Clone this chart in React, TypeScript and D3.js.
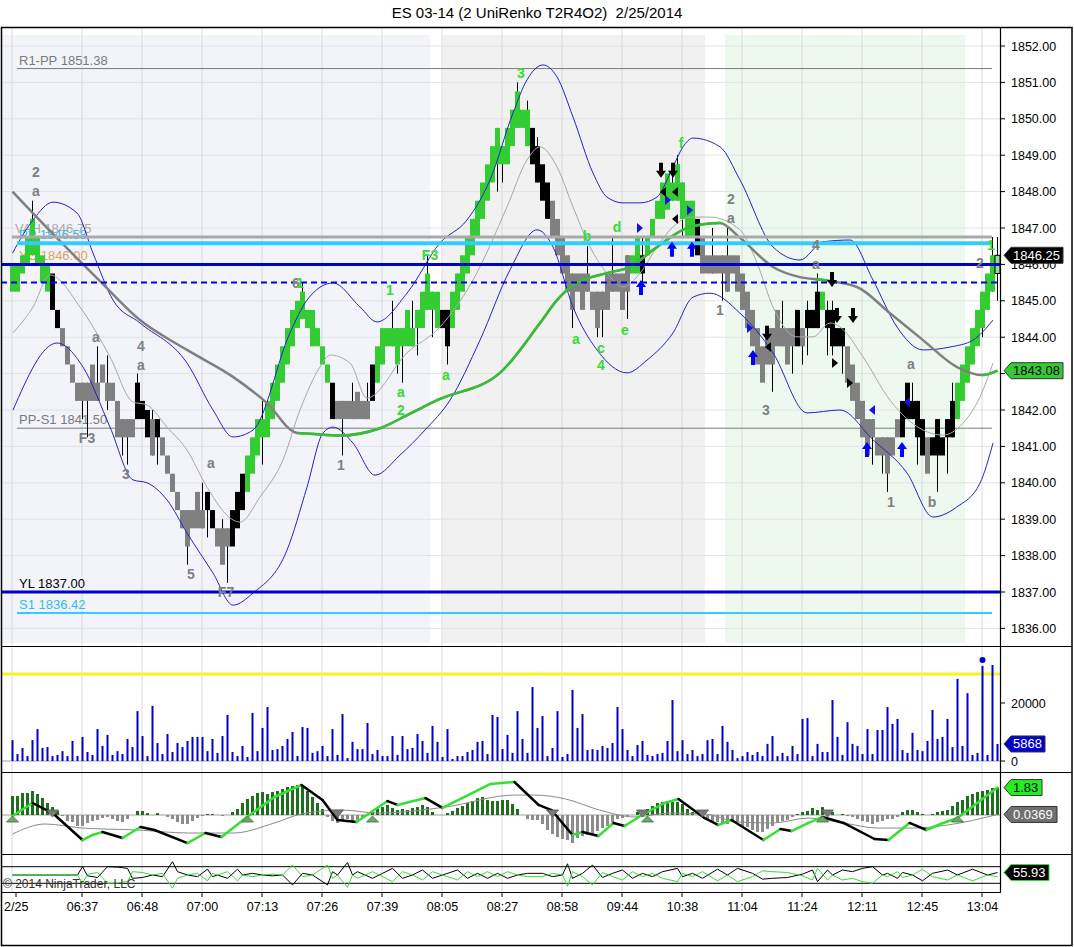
import React from "react";
import * as d3 from "d3";

const FONT = "'Liberation Sans', Arial, Helvetica, sans-serif";

// ---- renko bars (body low / body high, one per bar) ----
const bodyLo = [
  1845.25, 1845.25, 1845.75, 1846, 1846.25, 1846, 1845.5, 1845.25, 1844.75, 1844.25,
  1843.75, 1843.25, 1842.75, 1842.25, 1842.25, 1842.25, 1842.25, 1842.25, 1842.75, 1842.25,
  1842.25, 1841.25, 1841.25, 1841.25, 1841.25, 1841.75, 1841.75, 1841.25, 1840.75, 1841.25,
  1840.75, 1840.25, 1839.75, 1839.25, 1838.75, 1838.25, 1838.75, 1838.75, 1838.75, 1839.25,
  1838.75, 1838.25, 1837.75, 1838.25, 1838.25, 1838.75, 1839.25, 1839.75, 1840.25, 1840.75,
  1841.25, 1841.25, 1841.75, 1842.25, 1842.75, 1843.25, 1843.75, 1844.25, 1844.5, 1844.25,
  1843.75, 1843.75, 1843.25, 1842.75, 1841.75, 1841.75, 1841.75, 1841.75, 1841.75, 1841.75,
  1841.75, 1841.75, 1842.25, 1842.75, 1843.25, 1843.75, 1843.75, 1843.25, 1843.75, 1843.75,
  1843.75, 1844.25, 1844.25, 1844.75, 1844.75, 1844.25, 1844.25, 1843.75, 1844.25, 1844.75,
  1845.25, 1845.75, 1846.25, 1846.75, 1847.25, 1847.75, 1848.25, 1848.75, 1848.75, 1848.75,
  1849.25, 1849.75, 1849.75, 1849.25, 1848.75, 1848.25, 1847.75, 1847.25, 1846.75, 1846.25,
  1845.75, 1845.25, 1844.75, 1845.25, 1844.75, 1845.25, 1844.75, 1844.25, 1844.75, 1844.75,
  1845.25, 1845.25, 1844.75, 1845.25, 1845.75, 1845.75, 1845.75, 1846.25, 1846.75, 1847.25,
  1847.25, 1847.5, 1847.75, 1847.75, 1847.25, 1846.75, 1846.75, 1846.25, 1845.75, 1845.75,
  1845.75, 1845.75, 1845.75, 1845.25, 1845.75, 1845.25, 1844.75, 1844.25, 1843.75, 1843.25,
  1842.75, 1843.25, 1843.25, 1843.75, 1843.75, 1843.25, 1843.75, 1843.75, 1843.75, 1844.25,
  1844.25, 1844.25, 1844.75, 1844.25, 1843.75, 1843.75, 1843.75, 1842.75, 1842.25, 1841.75,
  1841.25, 1840.75, 1841.25, 1840.75, 1840.75, 1840.25, 1840.75, 1841.25, 1841.25, 1841.75,
  1841.75, 1841.25, 1840.75, 1840.25, 1840.75, 1840.75, 1840.75, 1841.25, 1841.25, 1841.75,
  1842.25, 1842.75, 1843.25, 1843.75, 1844.25, 1844.75, 1845.25, 1845.75,
];
const bodyHi = [
  1846, 1846, 1846.25, 1846.75, 1847.25, 1846.75, 1846.25, 1846, 1845.75, 1844.75,
  1844.25, 1843.75, 1843.25, 1842.75, 1842.75, 1842.75, 1843.25, 1842.75, 1843.25, 1842.75,
  1842.75, 1842.25, 1841.75, 1841.75, 1841.75, 1842.75, 1842.25, 1842, 1841.75, 1841.75,
  1841.25, 1840.75, 1840.25, 1839.75, 1839.25, 1839.25, 1839.25, 1839.75, 1839.25, 1839.75,
  1839.25, 1838.75, 1838.75, 1838.75, 1839.25, 1839.75, 1840.25, 1840.75, 1841.25, 1841.75,
  1841.75, 1842.25, 1842.75, 1843.25, 1843.75, 1844.25, 1844.75, 1845, 1845.25, 1844.75,
  1844.75, 1844.25, 1843.75, 1843.25, 1842.75, 1842.25, 1842.25, 1842.25, 1842.25, 1842.5,
  1842.25, 1842.25, 1843.25, 1843.75, 1844.25, 1844.25, 1844.25, 1844.25, 1844.25, 1844.75,
  1844.25, 1844.75, 1845.25, 1845.75, 1845.25, 1845.25, 1844.75, 1844.75, 1845.25, 1845.75,
  1846.25, 1846.75, 1847.25, 1847.75, 1848.25, 1848.75, 1849.25, 1849.75, 1849.25, 1849.75,
  1850.25, 1850.75, 1850.25, 1850.25, 1849.75, 1849.25, 1848.75, 1848.25, 1847.75, 1847.25,
  1846.75, 1846.25, 1845.75, 1845.75, 1845.75, 1845.75, 1845.25, 1845.25, 1845.25, 1845.75,
  1845.75, 1845.75, 1845.75, 1846.25, 1846.25, 1846.75, 1846.25, 1846.75, 1847.25, 1847.75,
  1848.25, 1848.5, 1848.25, 1848.75, 1848.25, 1847.75, 1847.75, 1847.25, 1846.75, 1846.25,
  1846.25, 1846.25, 1846.25, 1846.25, 1846.25, 1846.25, 1845.75, 1845.25, 1844.75, 1844.25,
  1843.75, 1844.25, 1844.25, 1844.75, 1844.25, 1844.25, 1844.25, 1844.75, 1844.25, 1844.75,
  1844.75, 1845.25, 1845.25, 1844.75, 1844.75, 1844.25, 1844.25, 1843.75, 1843.25, 1842.75,
  1842.25, 1841.75, 1841.75, 1841.25, 1841.25, 1841.25, 1841.25, 1841.75, 1842.25, 1842.75,
  1842.25, 1842.25, 1841.75, 1841.25, 1841.25, 1841.75, 1841.25, 1841.75, 1842.25, 1842.75,
  1843.25, 1843.75, 1844.25, 1844.75, 1845.25, 1845.75, 1846.25, 1846.25,
];
// G = green, S = gray, K = black, H = current (hollow) bar
const barColors =
  "GGGGGGGG" + "KK" + "SSSSSSSSSSSSSSS" + "KKK" + "S" + "K" + "SSSSSSSSS" + "KK" + "SSS" + "KKK" +
  "GGGGGGGGGGGGGGGGG" + "K" + "SSSSSSS" + "K" + "GGGGGGGGGGGGG" + "KK" + "GGGGGGGGGGGGGGGG" + "KKKK" +
  "SSSSSSSSSSSSSSSS" + "GG" + "K" + "GGGGGGGGGG" + "K" + "SSSSSSSSSSSSSSSSSSS" + "K" + "S" + "KKK" + "G" +
  "KKKK" + "SSSSSSSSSSS" + "KKKKK" + "S" + "KKKKK" + "GGGGGGGG" + "H";

// [bar, low, high]
const wicks: [number, number, number][] = [
  [4, 1846.25, 1847.75], [14, 1841.75, 1842.75], [15, 1841.25, 1842.75], [17, 1842.25, 1843.75],
  [19, 1842, 1843.5], [22, 1840.75, 1841.75], [23, 1840.5, 1841.75], [25, 1841.75, 1843],
  [28, 1840.75, 1842], [29, 1840.5, 1841.75], [35, 1837.75, 1839.25], [38, 1838.75, 1840],
  [39, 1838.5, 1839.75], [42, 1837.75, 1839], [43, 1837.25, 1838.75], [50, 1840.5, 1842.25],
  [58, 1844.5, 1845.5], [66, 1840.75, 1842.25], [68, 1841.75, 1842.75], [71, 1841.75, 1842.75],
  [76, 1843.75, 1845], [77, 1843, 1844.25], [78, 1842.75, 1844.25], [80, 1843.75, 1845],
  [81, 1843.5, 1844.75], [83, 1844.75, 1846.25], [84, 1844, 1845.25], [87, 1843.25, 1844.75],
  [97, 1848, 1849.75], [98, 1848.25, 1849.25], [101, 1849.75, 1851], [103, 1849.25, 1850.5],
  [105, 1848.25, 1849.5], [112, 1844.25, 1845.75], [115, 1845.25, 1846.5], [117, 1844, 1845.25],
  [118, 1844, 1845.25], [120, 1845.25, 1846.75], [123, 1844.5, 1846.25], [126, 1845.25, 1846.75],
  [132, 1847.75, 1848.75], [133, 1847.75, 1849], [134, 1846.75, 1848.25], [140, 1845.75, 1847],
  [142, 1845, 1846.25], [143, 1845.25, 1847], [152, 1842.5, 1844.25], [154, 1843.75, 1845],
  [156, 1843, 1844.25], [158, 1843.25, 1844.25], [159, 1843.5, 1845], [161, 1844.25, 1845.75],
  [163, 1843.5, 1845], [164, 1843.5, 1845], [166, 1843, 1844.25], [172, 1840.5, 1841.75],
  [174, 1840.25, 1841.25], [175, 1839.75, 1841.25], [180, 1841.75, 1842.75], [181, 1840.5, 1842.25],
  [185, 1839.75, 1841.75], [187, 1840.25, 1841.75], [188, 1841.25, 1842.75], [194, 1844, 1845.25],
  [196, 1845.25, 1846.75], [197, 1845, 1846.75],
];

const volume = [
  7200, 2400, 4500, 1700, 7200, 11000, 4500, 4800, 1700, 2100,
  3400, 1700, 6900, 1700, 8300, 3100, 2100, 11000, 5200, 9000,
  2100, 3400, 2400, 7600, 4800, 17200, 8600, 1700, 19000, 6200,
  2400, 9300, 3100, 6200, 4800, 6900, 8300, 8300, 8300, 3400,
  7600, 2800, 8600, 15900, 3100, 1700, 5200, 1400, 16600, 3400,
  11400, 18600, 3800, 4100, 5200, 7600, 10000, 1700, 11700, 11400,
  2800, 3400, 5200, 1700, 11000, 2100, 16200, 1000, 6600, 4100,
  4100, 13100, 2400, 3800, 1700, 1700, 8600, 2100, 8600, 4100,
  4500, 9300, 6900, 2800, 12100, 6600, 1400, 11000, 700, 1700,
  1700, 3100, 3800, 6600, 6900, 2400, 15900, 15200, 4100, 9000,
  2800, 17200, 7600, 2800, 25500, 11400, 15500, 1700, 4500, 17200,
  1400, 2400, 24500, 11400, 16200, 3800, 4100, 3800, 5200, 4500,
  6200, 18600, 11000, 3800, 1700, 5500, 6900, 2100, 1700, 2400,
  2800, 6900, 21000, 3400, 7200, 2400, 3800, 1700, 2400, 7200,
  7600, 2400, 12100, 6600, 3800, 1000, 1700, 3100, 2100, 3100,
  1700, 5900, 8600, 1700, 2800, 1700, 5200, 2400, 14500, 14800,
  1700, 5900, 3100, 3100, 21000, 8300, 2100, 13400, 5900, 5200,
  2400, 11000, 2400, 10700, 10700, 18600, 12800, 14500, 3800, 2800,
  9700, 3800, 3400, 6900, 17600, 7600, 8300, 14500, 4800, 28300,
  5200, 23400, 2100, 2800, 32800, 2100, 33100, 5868,
];
const volumeLevel = 30000;
const volumeSignalBar = 194;

const macdHist = [
  1.27, 1.27, 1.47, 1.47, 1.6, 1.4, 1.13, 0.8, 0.53, 0.27,
  -0.07, -0.4, -0.47, -0.73, -0.73, -0.53, -0.4, -0.33, -0.2, -0.13,
  -0.27, -0.4, -0.47, -0.27, 0, 0.27, 0.27, 0.13, 0, 0.13,
  0, -0.13, -0.27, -0.47, -0.6, -0.6, -0.4, -0.2, -0.07, 0.07,
  0.07, 0, -0.07, 0, 0.2, 0.4, 0.8, 1.07, 1.27, 1.47,
  1.53, 1.4, 1.53, 1.6, 1.73, 1.87, 1.93, 2.0, 1.93, 1.6,
  1.2, 0.8, 0.4, -0.13, -0.4, -0.53, -0.4, -0.27, -0.47, -0.33,
  -0.13, 0, 0.2, 0.4, 0.53, 0.67, 0.47, 0.33, 0.4, 0.33,
  0.47, 0.53, 0.67, 0.53, 0.2, 0, 0, 0.13, 0.27, 0.47,
  0.6, 0.8, 0.93, 1.13, 1.2, 1.0, 0.93, 0.93, 1.0, 1.0,
  0.73, 0.4, 0, -0.27, -0.33, -0.33, -0.6, -1.0, -1.27, -1.47,
  -1.6, -1.67, -1.87, -1.53, -1.4, -1.33, -1.27, -1.07, -0.87, -0.73,
  -0.47, -0.27, -0.2, -0.07, 0, 0.2, 0.27, 0.4, 0.6, 0.8,
  0.87, 0.93, 0.87, 0.87, 0.73, 0.4, 0.2, 0, -0.07, -0.27,
  -0.4, -0.47, -0.53, -0.6, -0.47, -0.47, -0.73, -0.8, -1.0, -1.13,
  -1.13, -0.93, -0.73, -0.47, -0.4, -0.33, -0.13, 0.07, 0.2, 0.27,
  0.47, 0.33, 0.53, 0.27, 0.2, 0, 0.07, -0.07, -0.13, -0.27,
  -0.4, -0.47, -0.6, -0.47, -0.4, -0.27, -0.27, -0.13, 0.2, 0.33,
  0.33, 0.2, 0.07, 0, 0.07, 0.2, 0.27, 0.33, 0.6, 0.87,
  1.0, 1.27, 1.4, 1.53, 1.6, 1.67, 1.8, 1.83,
];
// [bar, value]
const macdLine: [number, number][] = [
  [0, -0.07], [4, 0.8], [8, 0.13], [14, -1.67], [16, -1.33], [18, -1.13], [22, -1.53], [25.6, -0.8],
  [28.4, -1.0], [35, -1.87], [38.6, -1.2], [41.8, -1.47], [46.9, -0.13], [52.4, 1.2], [57.8, 2.0],
  [62, 1.0], [65, -0.33], [68.8, -0.47], [75, 0.93], [77, 0.67], [82.6, 1.13], [86, 0.47],
  [95.6, 2.07], [100.4, 2.2], [105.2, 0.67], [107.8, 0.33], [112, -1.33], [114, -1.13],
  [117.2, -1.4], [120.2, -0.53], [122.4, -0.73], [126.6, 0.13], [130.4, 0.8], [133.2, 1.07],
  [138.4, -0.2], [141.2, -0.67], [143.8, -0.33], [150.2, -1.67], [153.6, -0.93], [155.8, -1.07],
  [159.2, -0.53], [162, -0.13], [166.2, -0.53], [172.4, -1.6], [175.2, -1.67], [179.4, -0.53],
  [182.8, -1.0], [185.6, -0.6], [189, -0.2], [197, 1.83],
];
const macdSignal: [number, number][] = [
  [0, -1.27], [6.5, -0.6], [14, -0.87], [25, -1.0], [35.2, -1.2], [44.2, -1.2], [52.4, -0.53],
  [57.8, 0.07], [66, 0.33], [73, 0.13], [86.6, 0.53], [100.4, 1.33], [104.4, 1.33], [110.6, 1.07],
  [117.4, 0.33], [124.4, -0.13], [131.4, 0.13], [138.4, 0.07], [145.2, -0.47], [152.2, -0.53],
  [159.2, -0.2], [166.2, -0.53], [173, -0.87], [180, -0.87], [187, -0.67], [197, 0.0369],
];
const macdUpMarks = [0, 47, 72, 127, 162, 189];
const macdDownMarks = [8, 65, 108, 126, 138, 163];

// price-panel indicators, [bar, price]
const upperBand: [number, number][] = [
  [0, 1846.31], [4.1, 1847.22], [8.1, 1847.71], [12.9, 1847.41], [16.1, 1846.31], [20.1, 1845.02],
  [25.5, 1844.39], [34.9, 1843.29], [40.1, 1842.0], [44.1, 1841.26], [48.1, 1841.45], [55.5, 1844.12],
  [58.9, 1845.02], [64.1, 1845.49], [69.5, 1844.83], [72.9, 1844.42], [78.9, 1845.21], [85.5, 1846.59],
  [90.9, 1847.22], [95.5, 1848.32], [100.1, 1850.16], [102.9, 1851.07], [106.1, 1851.48], [108.9, 1851.15],
  [112.1, 1850.05], [116.1, 1848.51], [118.9, 1847.85], [122.1, 1847.69], [125.5, 1847.69], [128.9, 1847.85],
  [132.1, 1848.68], [134.1, 1849.23], [136.1, 1849.47], [141.5, 1849.23], [145.5, 1848.32], [152.1, 1846.48],
  [157.5, 1846.12], [162.1, 1846.62], [167.5, 1846.67], [172.1, 1845.57], [176.9, 1844.28], [182.1, 1843.65],
  [187.5, 1843.73], [192.1, 1843.92], [196.1, 1844.47],
];
const lowerBand: [number, number][] = [
  [0.1, 1842.0], [8.9, 1843.84], [14.1, 1843.18], [19.5, 1841.53], [24.1, 1840.08], [26.9, 1840.0],
  [30.9, 1839.53], [34.9, 1838.62], [40.1, 1837.52], [44.1, 1836.64], [48.1, 1836.97], [54.9, 1838.15],
  [58.9, 1839.88], [62.1, 1841.37], [64.1, 1841.53], [68.1, 1841.09], [72.5, 1840.21], [77.5, 1840.76],
  [82.5, 1841.45], [87.5, 1842.27], [93.5, 1843.92], [99.5, 1845.85], [104.9, 1846.95], [108.1, 1846.48],
  [112.1, 1844.83], [116.9, 1843.65], [122.9, 1843.02], [126.9, 1843.37], [132.1, 1844.12], [136.1, 1845.1],
  [139.5, 1845.21], [145.5, 1844.66], [152.1, 1843.57], [158.9, 1841.92], [165.5, 1842.0], [172.1, 1841.18],
  [178.9, 1840.27], [184.1, 1839.06], [188.9, 1839.34], [193.5, 1839.99], [196.1, 1841.09],
];
const fastMA: [number, number][] = [
  [0.1, 1844.12], [4.1, 1844.83], [7.5, 1845.71], [13.5, 1844.83], [19.5, 1843.46], [24.1, 1842.22],
  [26.9, 1842.14], [30.9, 1841.53], [34.9, 1840.9], [38.9, 1839.88], [44.1, 1838.98], [45.5, 1838.92],
  [49.5, 1839.61], [54.1, 1840.63], [57.5, 1842.0], [61.5, 1843.18], [63.5, 1843.51], [67.5, 1843.29],
  [70.9, 1842.33], [78.9, 1843.57], [85.5, 1844.28], [92.1, 1845.57], [98.9, 1847.58], [102.9, 1848.87],
  [105.5, 1849.23], [108.9, 1848.68], [112.1, 1847.58], [115.5, 1846.48], [118.9, 1845.76], [122.1, 1845.38],
  [125.5, 1845.76], [128.9, 1846.48], [132.1, 1847.03], [135.5, 1847.3], [139.5, 1847.3], [145.5, 1846.95],
  [148.9, 1846.04], [152.1, 1844.83], [156.9, 1844.01], [160.1, 1844.01], [163.5, 1844.39], [165.5, 1844.28],
  [170.1, 1843.46], [175.5, 1842.27], [182.1, 1841.45], [186.1, 1841.31], [190.1, 1841.64], [193.5, 1842.36],
  [196.1, 1843.29],
];
const slowMA: [number, number][] = [
  [0, 1848.0], [7.5, 1846.92], [17.5, 1845.54], [25.5, 1844.47], [34.9, 1843.65], [44.1, 1842.91],
  [50.9, 1842.19], [56.9, 1841.37], [59.5, 1841.35], [65.5, 1841.3], [73.5, 1841.5], [79.5, 1841.9],
  [84.9, 1842.27], [97.5, 1843.02], [105.5, 1844.39], [108.9, 1845.02], [112.1, 1845.43], [118.9, 1845.76],
  [123.5, 1845.93], [128.9, 1846.48], [135.5, 1847.03], [141.5, 1847.14], [145.5, 1846.73], [152.1, 1845.93],
  [157.5, 1845.65], [162.1, 1845.57], [168.9, 1845.38], [175.5, 1844.66], [182.1, 1843.92], [188.9, 1843.18],
  [194.1, 1842.96], [197, 1843.08],
];
const slowMAUp: [number, number][] = [[57, 142], [160.5, 164], [194, 198]];

// oscillator panel, [bar, value]
const oscBlack: [number, number][] = [
  [0, 50], [13, 50], [14, 70], [15, 48], [17, 44], [19, 70], [21, 69], [23, 66], [24, 42], [26, 44],
  [28, 50], [30, 46], [32, 82], [33, 58], [35, 50], [37, 46], [39, 64], [40, 46], [41, 50], [43, 42],
  [45, 64], [46, 50], [48, 54], [50, 50], [52, 48], [54, 50], [56, 26], [58, 54], [60, 50], [63, 26],
  [64, 58], [65, 50], [67, 80], [68, 50], [69, 58], [72, 42], [74, 54], [76, 66], [78, 42], [80, 50],
  [82, 62], [84, 42], [86, 50], [89, 62], [91, 42], [93, 54], [95, 42], [97, 54], [99, 42], [101, 50],
  [103, 54], [106, 54], [108, 46], [110, 50], [111, 77], [112, 42], [114, 54], [116, 74], [118, 44],
  [120, 54], [122, 62], [124, 42], [126, 54], [128, 46], [130, 58], [133, 66], [134, 46], [136, 54],
  [138, 42], [141, 64], [143, 50], [145, 66], [148, 54], [150, 40], [152, 42], [155, 44], [158, 52],
  [160, 62], [161, 34], [163, 62], [164, 50], [166, 62], [168, 58], [170, 66], [172, 70], [174, 50],
  [175, 54], [177, 42], [178, 56], [180, 50], [182, 36], [184, 54], [187, 62], [189, 50], [192, 64],
  [195, 50], [197, 55.93],
];
const oscGreen: [number, number][] = [
  [0, 50], [13, 50], [14, 30], [15, 52], [17, 56], [19, 30], [21, 31], [23, 34], [24, 58], [26, 56],
  [28, 50], [30, 54], [32, 18], [33, 42], [35, 50], [37, 54], [39, 36], [40, 54], [41, 50], [43, 58],
  [45, 36], [46, 50], [48, 46], [50, 50], [52, 52], [54, 50], [56, 74], [58, 46], [60, 50], [63, 74],
  [64, 42], [65, 50], [67, 20], [68, 50], [69, 42], [72, 58], [74, 46], [76, 34], [78, 58], [80, 50],
  [82, 38], [84, 58], [86, 50], [89, 38], [91, 58], [93, 46], [95, 58], [97, 46], [99, 58], [101, 50],
  [103, 46], [106, 46], [108, 54], [110, 50], [111, 23], [112, 58], [114, 46], [116, 26], [118, 56],
  [120, 46], [122, 38], [124, 58], [126, 46], [128, 54], [130, 42], [133, 34], [134, 54], [136, 46],
  [138, 58], [141, 36], [143, 50], [145, 34], [148, 46], [150, 60], [152, 58], [155, 56], [158, 48],
  [160, 38], [161, 66], [163, 38], [164, 50], [166, 38], [168, 42], [170, 34], [172, 30], [174, 50],
  [175, 46], [177, 58], [178, 44], [180, 50], [182, 64], [184, 46], [187, 38], [189, 50], [192, 36],
  [195, 50], [197, 46],
];

// swing labels, [bar, price, text]
const grayMarks: [number, number, string][] = [
  [4.7, 1848.54, "2"], [4.7, 1848.02, "a"], [16.7, 1844.0, "a"], [25.7, 1843.76, "4"], [25.7, 1843.24, "a"],
  [14.9, 1841.23, "F3"], [22.7, 1840.24, "3"], [39.7, 1840.54, "a"], [35.7, 1837.49, "5"], [42.7, 1837.0, "F7"],
  [56.7, 1845.49, "6"], [65.7, 1840.49, "1"], [143.7, 1847.8, "2"], [143.7, 1847.27, "a"], [160.7, 1846.53, "4"],
  [160.7, 1846.01, "a"], [141.5, 1844.75, "1"], [150.7, 1842.0, "3"], [179.7, 1843.26, "a"], [175.7, 1839.47, "1"],
  [183.9, 1839.47, "b"], [193.5, 1846.04, "2"],
];
const greenMarks: [number, number, string][] = [
  [57.5, 1845.49, "1"], [75.5, 1845.3, "1"], [77.7, 1842.49, "a"], [77.7, 1842.0, "2"], [83.5, 1846.26, "F3"],
  [86.7, 1842.96, "a"], [101.7, 1851.26, "3"], [114.9, 1846.78, "b"], [120.9, 1847.03, "d"], [112.7, 1843.95, "a"],
  [117.7, 1843.7, "c"], [117.7, 1843.24, "4"], [122.5, 1844.2, "e"], [133.7, 1849.34, "f"], [195.7, 1846.53, "1"],
];
const upArrows: [number, number][] = [
  [125.7, 1845.35], [131.9, 1846.4], [135.9, 1846.4], [148.1, 1843.43], [170.9, 1840.9], [177.9, 1840.9],
];
const downArrows: [number, number][] = [
  [129.7, 1848.6], [132.1, 1848.6], [150.9, 1844.12], [163.9, 1845.6], [164.9, 1844.61], [168.1, 1844.61],
];
// [bar, price, direction, colour key]
const pointers: [number, number, string, string][] = [
  [125.5, 1847.0, "r", "b"], [131.1, 1847.77, "r", "b"], [135.5, 1847.49, "r", "b"], [130.1, 1847.99, "l", "k"],
  [132.5, 1847.99, "l", "k"], [132.5, 1847.25, "l", "k"], [151.1, 1843.73, "l", "k"], [147.5, 1844.25, "r", "b"],
  [164.5, 1843.29, "r", "k"], [167.5, 1842.74, "r", "k"], [171.9, 1842.0, "l", "b"], [178.9, 1842.22, "l", "b"],
];

// horizontal levels
const levelNames = ["R1-PP", "VAH", "PP", "YC", "MID", "PP-S1", "YL", "S1"];
const levelValues = [1851.38, 1846.75, 1846.58, 1846.0, 1845.5, 1841.5, 1837.0, 1836.42];

const timeLabels = ["2/25", "06:37", "06:48", "07:00", "07:13", "07:26", "07:39", "08:05", "08:27",
  "08:58", "09:44", "10:38", "11:04", "11:24", "12:11", "12:45", "13:04"];
const timeTickBars = [0, 14, 26, 38, 50, 62, 74, 86, 98, 110, 122, 134, 146, 158, 170, 182, 194];

const sessions: [number, number, string][] = [[-2.4, 83.5, "#f3f4fa"], [86.1, 138.5, "#f1f1f1"], [142.5, 190.5, "#edf9ee"]];

const title = "ES 03-14 (2 UniRenko T2R4O2)  2/25/2014";
const slowMALast = 1843.08;

const levelStyle: Record<string, { stroke: string; w: number; x0: number; x1: number; label?: string; dash?: string }> = {
  "R1-PP": { stroke: "#7a7a7a", w: 1, x0: 17, x1: 992, label: "#7a7a7a" },
  VAH: { stroke: "#a9a9a9", w: 3, x0: 12, x1: 992, label: "#a9a9a9" },
  PP: { stroke: "#33ccff", w: 4, x0: 17, x1: 992, label: "#3cb8ec" },
  YC: { stroke: "#0000cc", w: 3, x0: 1, x1: 1000, label: "#d9a565" },
  MID: { stroke: "#0000ee", w: 2, x0: 1, x1: 1000, dash: "6,4" },
  "PP-S1": { stroke: "#7a7a7a", w: 1, x0: 17, x1: 992, label: "#7a7a7a" },
  YL: { stroke: "#0000cc", w: 3, x0: 1, x1: 1000, label: "#000000" },
  S1: { stroke: "#33ccff", w: 2, x0: 17, x1: 992, label: "#33bbee" },
};
const barFill: Record<string, string> = { G: "#33cc33", S: "#808080", K: "#000000", H: "#8fdf8f" };

function Marker({ y, text, fill, color, w, stroke }: { y: number; text: string; fill: string; color: string; w: number; stroke?: string }) {
  const x0 = 1004, xb = 1011, h = 8;
  return (
    <g>
      <polygon
        points={`${x0},${y} ${xb},${y - h} ${xb + w},${y - h} ${xb + w},${y + h} ${xb},${y + h}`}
        fill={fill}
        stroke={stroke || "#333"}
        strokeWidth={1}
      />
      <text x={xb + 2} y={y + 4.5} fontSize={13} fill={color} fontFamily={FONT}>{text}</text>
    </g>
  );
}

export default function App() {
  const x = d3.scaleLinear().domain([0, 197]).range([12.5, 997.5]);
  const yP = d3.scaleLinear().domain([1852, 1836]).range([46, 628.4]);
  const yV = d3.scaleLinear().domain([0, 20000]).range([761, 703]);
  const yM = d3.scaleLinear().domain([0, 1]).range([815, 800]);
  const yO = d3.scaleLinear().domain([30, 70]).range([883.3, 866.7]);

  const priceLine = d3.line<[number, number]>().x((d) => x(d[0])).y((d) => yP(d[1])).curve(d3.curveMonotoneX);
  const sigLine = d3.line<[number, number]>().x((d) => x(d[0])).y((d) => yM(d[1])).curve(d3.curveMonotoneX);
  const oscLine = d3.line<[number, number]>().x((d) => x(d[0])).y((d) => yO(d[1]));

  const priceTicks = d3.range(1836, 1853);
  const lastPrice = bodyHi[bodyHi.length - 1];

  return (
    <svg width={1074} height={947} style={{ position: "absolute", left: 0, top: 0 }} fontFamily={FONT}>
      <defs>
        <clipPath id="pricePanel"><rect x={1} y={28} width={999} height={617} /></clipPath>
        <clipPath id="maUp">
          {slowMAUp.map((r, k) => (
            <rect key={k} x={x(r[0])} y={28} width={x(r[1]) - x(r[0])} height={617} />
          ))}
        </clipPath>
      </defs>
      <rect x={0} y={0} width={1074} height={947} fill="#fff" />
      <text x={537} y={18} textAnchor="middle" fontSize={15} fill="#000" style={{ whiteSpace: "pre" }}>{title}</text>

      {/* session shading */}
      {sessions.map((s, k) => (
        <rect key={k} x={Math.max(2, x(s[0]))} y={35} width={x(s[1]) - Math.max(2, x(s[0]))} height={608} fill={s[2]} />
      ))}

      {/* grid */}
      {priceTicks.map((p) => (
        <line key={p} x1={1} x2={1000} y1={yP(p)} y2={yP(p)} stroke="#e2e2e6" strokeWidth={1} />
      ))}
      {timeTickBars.map((b) => (
        <line key={b} x1={x(b) - 0.5} x2={x(b) - 0.5} y1={28} y2={892} stroke="#d9d9dc" strokeWidth={1} />
      ))}

      <g clipPath="url(#pricePanel)">
        {/* thin levels under bars */}
        {levelNames.map((n, k) => {
          const st = levelStyle[n];
          if (st.w > 1) return null;
          return <line key={n} x1={st.x0} x2={st.x1} y1={yP(levelValues[k])} y2={yP(levelValues[k])} stroke={st.stroke} strokeWidth={st.w} />;
        })}
        {levelNames.map((n, k) => {
          const st = levelStyle[n];
          if (!st.label) return null;
          return (
            <text key={n} x={n === "VAH" ? 15 : 19} y={yP(levelValues[k]) - 4} fontSize={13} fill={st.label}>
              {`${n} ${levelValues[k].toFixed(2)}`}
            </text>
          );
        })}

        {/* wicks and renko bodies */}
        {wicks.map((w) => (
          <line key={w[0]} x1={x(w[0])} x2={x(w[0])} y1={yP(w[1])} y2={yP(w[2])} stroke="#000" strokeWidth={1} />
        ))}
        {bodyLo.map((lo, i) => (
          <rect
            key={i}
            x={x(i) - 2.5}
            width={5}
            y={yP(bodyHi[i])}
            height={yP(lo) - yP(bodyHi[i])}
            fill={barFill[barColors[i]]}
            stroke={barColors[i] === "H" ? "#000" : "none"}
            strokeWidth={1}
          />
        ))}

        {/* indicators */}
        <path d={priceLine(upperBand) || ""} fill="none" stroke="#2323c8" strokeWidth={1} />
        <path d={priceLine(lowerBand) || ""} fill="none" stroke="#2323c8" strokeWidth={1} />
        <path d={priceLine(fastMA) || ""} fill="none" stroke="#a8a8a8" strokeWidth={1} />
        <path d={priceLine(slowMA) || ""} fill="none" stroke="#808080" strokeWidth={2.5} />
        <path d={priceLine(slowMA) || ""} fill="none" stroke="#33c033" strokeWidth={2.5} clipPath="url(#maUp)" />

        {/* thick levels over bars */}
        {levelNames.map((n, k) => {
          const st = levelStyle[n];
          if (st.w <= 1) return null;
          return (
            <line key={n} x1={st.x0} x2={st.x1} y1={yP(levelValues[k])} y2={yP(levelValues[k])}
              stroke={st.stroke} strokeWidth={st.w} strokeDasharray={st.dash} />
          );
        })}

        {/* swing labels */}
        {grayMarks.map((m, k) => (
          <text key={"g" + k} x={x(m[0])} y={yP(m[1]) + 5} textAnchor="middle" fontSize={14} fontWeight="bold" fill="#808080">{m[2]}</text>
        ))}
        {greenMarks.map((m, k) => (
          <text key={"n" + k} x={x(m[0])} y={yP(m[1]) + 5} textAnchor="middle" fontSize={14} fontWeight="bold" fill="#33dd33">{m[2]}</text>
        ))}
        {upArrows.map((a, k) => {
          const cx = x(a[0]), cy = yP(a[1]);
          return <path key={"u" + k} d={`M${cx - 5},${cy - 1}L${cx},${cy - 8}L${cx + 5},${cy - 1}L${cx + 2},${cy - 1}L${cx + 2},${cy + 7}L${cx - 2},${cy + 7}L${cx - 2},${cy - 1}Z`} fill="#0000ff" />;
        })}
        {downArrows.map((a, k) => {
          const cx = x(a[0]), cy = yP(a[1]);
          return <path key={"d" + k} d={`M${cx - 5},${cy + 1}L${cx},${cy + 8}L${cx + 5},${cy + 1}L${cx + 2},${cy + 1}L${cx + 2},${cy - 7}L${cx - 2},${cy - 7}L${cx - 2},${cy + 1}Z`} fill="#000" />;
        })}
        {pointers.map((p, k) => {
          const cx = x(p[0]), cy = yP(p[1]);
          const s = p[2] === "r" ? 1 : -1;
          return <path key={"p" + k} d={`M${cx - 3 * s},${cy - 5}L${cx + 3 * s},${cy}L${cx - 3 * s},${cy + 5}Z`} fill={p[3] === "b" ? "#1010ee" : "#000"} />;
        })}
      </g>

      {/* volume panel */}
      <line x1={1} x2={1000} y1={yV(0)} y2={yV(0)} stroke="#9a9ac8" strokeWidth={1} />
      <line x1={1} x2={1000} y1={yV(volumeLevel)} y2={yV(volumeLevel)} stroke="#f5f51e" strokeWidth={3} />
      {volume.map((v, i) => (
        <rect key={i} x={x(i) - 1} width={2} y={yV(v)} height={yV(0) - yV(v)} fill="#0000cc" />
      ))}
      <circle cx={x(volumeSignalBar)} cy={yV(volume[volumeSignalBar]) - 6} r={3} fill="#0000cc" />

      {/* MACD panel */}
      <line x1={1} x2={1000} y1={yM(0)} y2={yM(0)} stroke="#a0a0a0" strokeWidth={1} />
      {macdHist.map((v, i) => (
        <rect key={i} x={x(i) - 1.5} width={3} y={Math.min(yM(v), yM(0))} height={Math.abs(yM(v) - yM(0))}
          fill={v >= 0 ? "#1e6e1e" : "#8c8c8c"} />
      ))}
      <path d={sigLine(macdSignal) || ""} fill="none" stroke="#8a8a8a" strokeWidth={1} />
      {macdLine.slice(1).map((d, k) => {
        const p = macdLine[k];
        return <line key={k} x1={x(p[0])} y1={yM(p[1])} x2={x(d[0])} y2={yM(d[1])}
          stroke={d[1] >= p[1] ? "#33e033" : "#000"} strokeWidth={2.5} strokeLinecap="round" />;
      })}
      {macdUpMarks.map((b) => (
        <path key={"mu" + b} d={`M${x(b) - 6},${yM(0) + 7}L${x(b)},${yM(0) + 1}L${x(b) + 6},${yM(0) + 7}Z`} fill="#6fa56f" stroke="#3b6e3b" strokeWidth={0.8} />
      ))}
      {macdDownMarks.map((b) => (
        <path key={"md" + b} d={`M${x(b) - 6},${yM(0) - 5}L${x(b)},${yM(0) + 2}L${x(b) + 6},${yM(0) - 5}Z`} fill="#7a7a7a" stroke="#555" strokeWidth={0.8} />
      ))}

      {/* oscillator panel */}
      <line x1={1} x2={1000} y1={yO(70)} y2={yO(70)} stroke="#000" strokeWidth={1} />
      <line x1={1} x2={1000} y1={yO(30)} y2={yO(30)} stroke="#000" strokeWidth={1} />
      <path d={oscLine(oscBlack) || ""} fill="none" stroke="#000" strokeWidth={1} />
      <path d={oscLine(oscGreen) || ""} fill="none" stroke="#33dd33" strokeWidth={1} />
      <text x={3} y={888} fontSize={12} fill="#333">© 2014 NinjaTrader, LLC</text>

      {/* frame and panel separators */}
      <rect x={1.5} y={27.5} width={1070.5} height={918} fill="none" stroke="#000" strokeWidth={1.5} />
      <line x1={1000.5} x2={1000.5} y1={27} y2={892} stroke="#000" strokeWidth={1.2} />
      {[646, 772, 854].map((y) => (
        <line key={y} x1={1} x2={1072} y1={y + 0.5} y2={y + 0.5} stroke="#000" strokeWidth={1.2} />
      ))}
      <line x1={1} x2={1001} y1={892.5} y2={892.5} stroke="#000" strokeWidth={1.2} />

      {/* price axis */}
      {priceTicks.map((p) => (
        <g key={p}>
          <line x1={1000} x2={1005} y1={yP(p)} y2={yP(p)} stroke="#000" />
          <text x={1011} y={yP(p) + 4.5} fontSize={12.5} fill="#000">{p.toFixed(2)}</text>
        </g>
      ))}
      {[0, 20000].map((v) => (
        <g key={v}>
          <line x1={1000} x2={1005} y1={yV(v)} y2={yV(v)} stroke="#000" />
          <text x={1011} y={yV(v) + 4.5} fontSize={12.5} fill="#000">{v}</text>
        </g>
      ))}

      {/* time axis */}
      {timeTickBars.map((b, k) => (
        <g key={b}>
          <line x1={k === 0 ? x(b) + 3.5 : x(b) - 0.5} x2={k === 0 ? x(b) + 3.5 : x(b) - 0.5} y1={892} y2={897} stroke="#000" />
          <text x={k === 0 ? 4 : x(b)} y={911} textAnchor={k === 0 ? "start" : "middle"} fontSize={12.5} fill="#000">{timeLabels[k]}</text>
        </g>
      ))}

      {/* last-value markers */}
      <Marker y={yP(lastPrice)} text={lastPrice.toFixed(2)} fill="#000" color="#fff" w={52} />
      <Marker y={yP(slowMALast)} text={slowMALast.toFixed(2)} fill="#33cc33" color="#000" w={52} />
      <Marker y={yV(volume[volume.length - 1])} text={String(volume[volume.length - 1])} fill="#0000cc" color="#fff" w={34} />
      <Marker y={yM(macdLine[macdLine.length - 1][1])} text={macdLine[macdLine.length - 1][1].toFixed(2)} fill="#22ee22" color="#000" w={31} />
      <Marker y={yM(macdSignal[macdSignal.length - 1][1])} text={macdSignal[macdSignal.length - 1][1].toFixed(4)} fill="#707070" color="#fff" w={46} />
      <Marker y={yO(oscBlack[oscBlack.length - 1][1])} text={oscBlack[oscBlack.length - 1][1].toFixed(2)} fill="#000" color="#fff" w={38} stroke="#33dd33" />
    </svg>
  );
}
